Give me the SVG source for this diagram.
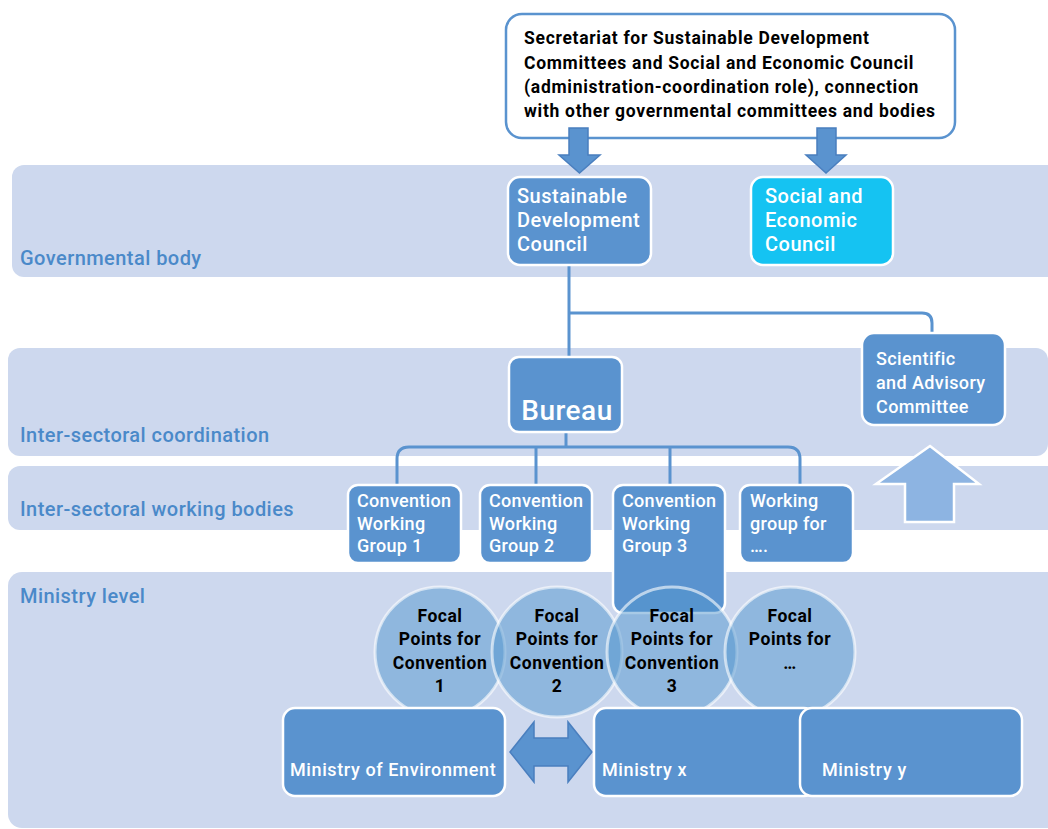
<svg xmlns="http://www.w3.org/2000/svg" width="1048" height="829" viewBox="0 0 1048 829">
<style>
.band{fill:#cdd8ee}
.lbl{font-family:Roboto,"Liberation Sans",sans-serif;font-weight:500;font-size:20px;letter-spacing:0.45px;fill:#4a89c9}
.box{fill:#5a93cf;stroke:#fff;stroke-width:2.5}
.wt{font-family:Roboto,"Liberation Sans",sans-serif;font-weight:500;font-size:20px;letter-spacing:0.5px;fill:#fff}
.bt{font-family:Roboto,"Liberation Sans",sans-serif;font-weight:700;font-size:17.5px;letter-spacing:0.7px;fill:#000}
.ct{font-family:Roboto,"Liberation Sans",sans-serif;font-weight:700;font-size:17.5px;letter-spacing:0.5px;fill:#000;text-anchor:middle}
.con{fill:none;stroke:#5a93cf;stroke-width:3}
.circ{fill:#5196ce;fill-opacity:0.5;stroke:#fff;stroke-opacity:0.6;stroke-width:3}
.arr{fill:#5a93cf;stroke:#4a7fbf;stroke-width:1.5}
.wg{font-size:18px;letter-spacing:0.3px}
.mn{font-size:18px;letter-spacing:0.6px}
</style>
<rect width="1048" height="829" fill="#fff"/>
<g id="bands">
<rect class="band" x="12" y="165" width="1060" height="112" rx="12"/>
<rect class="band" x="8" y="348" width="1040" height="108" rx="12"/>
<rect class="band" x="8" y="466" width="1060" height="64" rx="12"/>
<rect class="band" x="8" y="572" width="1060" height="256" rx="14"/>
<text class="lbl" x="20" y="265">Governmental body</text>
<text class="lbl" x="20" y="442">Inter-sectoral coordination</text>
<text class="lbl" x="20" y="516">Inter-sectoral working bodies</text>
<text class="lbl" x="20" y="603">Ministry level</text>
</g>
<g id="connectors">
<path class="con" d="M569 265 V357"/>
<path class="con" d="M569 313 H922 Q932 313 932 323 V334"/>
<path class="con" d="M566 432 V447"/>
<path class="con" d="M397 485 V459 Q397 447 409 447 H788 Q800 447 800 459 V485"/>
<path class="con" d="M536 447 V485"/>
<path class="con" d="M670 447 V485"/>
</g>
<g id="secretariat">
<rect x="506" y="14" width="449" height="124" rx="16" fill="#fff" stroke="#5a93cf" stroke-width="2.5"/>
<text class="bt" x="524" y="44">Secretariat for Sustainable Development</text>
<text class="bt" x="524" y="68.5">Committees and Social and Economic Council</text>
<text class="bt" x="524" y="93">(administration-coordination role), connection</text>
<text class="bt" x="524" y="117">with other governmental committees and bodies</text>
</g>
<g id="arrow-sdc">
<path class="arr" d="M569 128 H588 V155 H600 L579.5 173 L559 155 H569 Z"/>
</g>
<g id="arrow-sec">
<path class="arr" d="M817 128 H836 V155 H846 L826 173 L806 155 H817 Z"/>
</g>
<g id="sdc">
<rect class="box" x="508" y="177" width="143" height="88" rx="12"/>
<text class="wt" x="517" y="203">Sustainable</text>
<text class="wt" x="517" y="227">Development</text>
<text class="wt" x="517" y="251">Council</text>
</g>
<g id="sec">
<rect x="751" y="177" width="142" height="88" rx="12" fill="#15c3f2" stroke="#fff" stroke-width="2.5"/>
<text class="wt" x="765" y="203">Social and</text>
<text class="wt" x="765" y="227">Economic</text>
<text class="wt" x="765" y="251">Council</text>
</g>
<g id="bureau">
<rect class="box" x="509" y="357" width="113" height="75" rx="10"/>
<text class="wt" x="567" y="420" text-anchor="middle" style="font-size:28px;letter-spacing:0.5px">Bureau</text>
</g>
<g id="sac">
<rect class="box" x="862" y="333" width="143" height="92" rx="12"/>
<text class="wt" x="876" y="365" style="font-size:18px;letter-spacing:0.4px">Scientific</text>
<text class="wt" x="876" y="389" style="font-size:18px;letter-spacing:0.4px">and Advisory</text>
<text class="wt" x="876" y="413" style="font-size:18px;letter-spacing:0.4px">Committee</text>
</g>
<g id="up-arrow">
<path d="M930 446 L979 484 H954 V522 H905 V484 H876 Z" fill="#8db4e2" stroke="#fff" stroke-width="2.5"/>
</g>
<g id="wg1">
<rect class="box" x="348" y="485" width="113" height="78" rx="10"/>
<text class="wt wg" x="357" y="507">Convention</text>
<text class="wt wg" x="357" y="530">Working</text>
<text class="wt wg" x="357" y="552">Group 1</text>
</g>
<g id="wg2">
<rect class="box" x="480" y="485" width="112" height="78" rx="10"/>
<text class="wt wg" x="489" y="507">Convention</text>
<text class="wt wg" x="489" y="530">Working</text>
<text class="wt wg" x="489" y="552">Group 2</text>
</g>
<g id="wg3">
<rect class="box" x="613" y="485" width="112" height="128" rx="10"/>
<text class="wt wg" x="622" y="507">Convention</text>
<text class="wt wg" x="622" y="530">Working</text>
<text class="wt wg" x="622" y="552">Group 3</text>
</g>
<g id="wg4">
<rect class="box" x="740" y="485" width="113" height="78" rx="10"/>
<text class="wt wg" x="750" y="507">Working</text>
<text class="wt wg" x="750" y="530">group for</text>
<text class="wt wg" x="750" y="552">….</text>
</g>
<g id="fp1">
<circle class="circ" cx="440" cy="652" r="65"/>
<text class="ct" x="440" y="622">Focal</text>
<text class="ct" x="440" y="645">Points for</text>
<text class="ct" x="440" y="669">Convention</text>
<text class="ct" x="440" y="692">1</text>
</g>
<g id="fp2">
<circle class="circ" cx="557" cy="652" r="65"/>
<text class="ct" x="557" y="622">Focal</text>
<text class="ct" x="557" y="645">Points for</text>
<text class="ct" x="557" y="669">Convention</text>
<text class="ct" x="557" y="692">2</text>
</g>
<g id="fp3">
<circle class="circ" cx="672" cy="652" r="65"/>
<text class="ct" x="672" y="622">Focal</text>
<text class="ct" x="672" y="645">Points for</text>
<text class="ct" x="672" y="669">Convention</text>
<text class="ct" x="672" y="692">3</text>
</g>
<g id="fp4">
<circle class="circ" cx="790" cy="652" r="65"/>
<text class="ct" x="790" y="622">Focal</text>
<text class="ct" x="790" y="645">Points for</text>
<text class="ct" x="790" y="669">…</text>
</g>
<g id="min-env">
<rect class="box" x="283" y="708" width="222" height="88" rx="12"/>
<text class="wt mn" x="290" y="776">Ministry of Environment</text>
</g>
<g id="double-arrow">
<path class="arr" d="M510 752 L534 722 V738 H568 V722 L592 752 L568 782 V766 H534 V782 Z"/>
</g>
<g id="min-x">
<rect class="box" x="594" y="708" width="222" height="88" rx="12"/>
<text class="wt mn" x="602" y="776">Ministry x</text>
</g>
<g id="min-y">
<rect class="box" x="800" y="708" width="222" height="88" rx="12"/>
<text class="wt mn" x="822" y="776">Ministry y</text>
</g>
</svg>
